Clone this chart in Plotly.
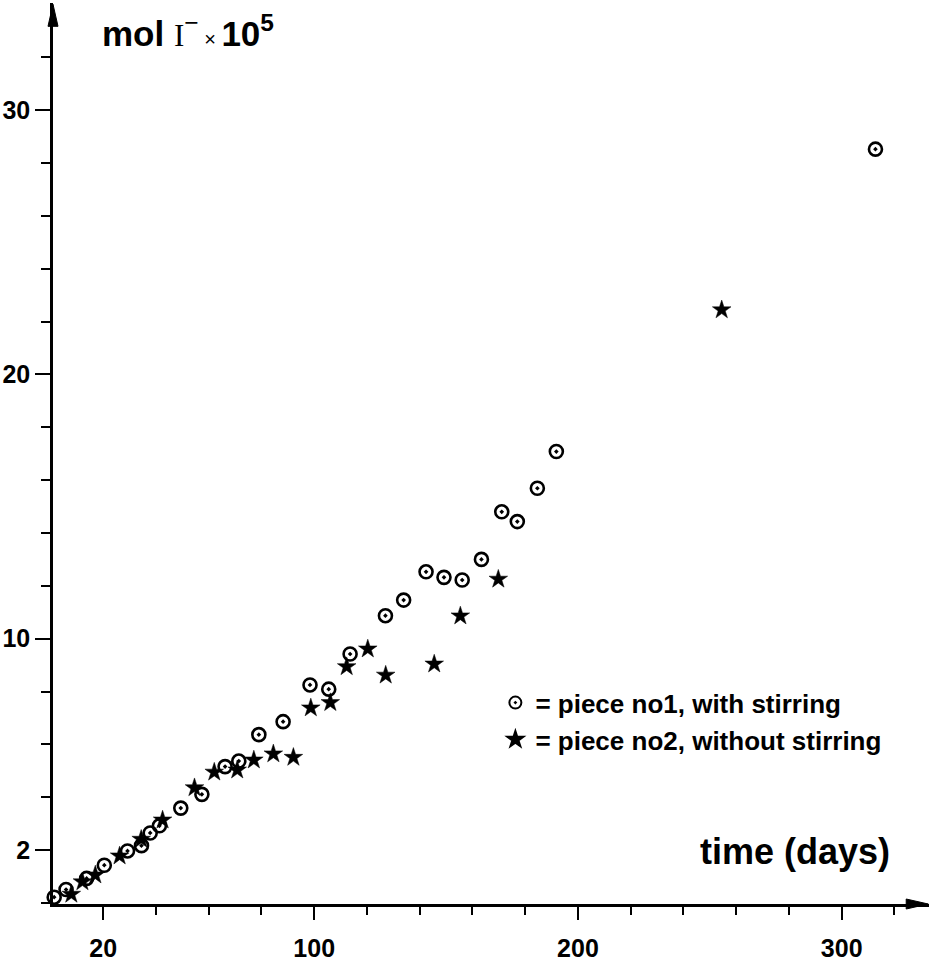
import plotly.graph_objects as go

# ---- data ----
days_stirring = [1.4, 5.9, 13.7, 20.4, 29.2, 34.5, 37.8, 41.3, 49.4, 57.4, 66.2, 71.4,
                 79.0, 88.2, 98.4, 105.5, 113.6, 127.0, 133.9, 142.4, 149.2, 156.1,
                 163.4, 171.1, 177.0, 184.6, 191.8, 312.8]
mol_stirring = [0.22, 0.51, 0.93, 1.43, 1.97, 2.17, 2.65, 2.92, 3.59, 4.11, 5.16, 5.37,
                6.37, 6.86, 8.25, 8.09, 9.42, 10.87, 11.46, 12.53, 12.32, 12.22,
                13.00, 14.80, 14.43, 15.69, 17.08, 28.52]

days_nostir = [7.9, 12.1, 17.0, 26.2, 34.4, 42.5, 54.6, 62.1, 70.8, 77.1, 84.5, 92.1,
               98.7, 106.1, 112.3, 120.3, 127.1, 145.5, 155.4, 169.8, 254.5]
mol_nostir = [0.33, 0.80, 1.06, 1.78, 2.41, 3.14, 4.36, 4.95, 5.03, 5.41, 5.64, 5.51,
              7.38, 7.58, 8.94, 9.61, 8.62, 9.04, 10.86, 12.25, 22.44]

x_tickvals = [20, 100, 200, 300]
x_ticktext = ["20", "100", "200", "300"]
x_minor_ticks = list(range(0, 321, 20))
y_tickvals = [2, 10, 20, 30]
y_ticktext = ["2", "10", "20", "30"]
y_minor_ticks = list(range(0, 33, 2))

name_stirring = "= piece no1, with stirring"
name_nostir = "= piece no2, without stirring"

FONT = "Liberation Sans, Arial, sans-serif"

X0, X1 = 0.95, 333.1
Y0, Y1 = -0.038, 34.05
PLOT_W, PLOT_H = 876, 901

fig = go.Figure()
fig.add_trace(go.Scatter(
    x=days_stirring, y=mol_stirring, mode="markers", name=name_stirring,
    marker=dict(symbol="circle-open-dot", size=13, color="black",
                line=dict(width=2.6, color="black")),
    cliponaxis=False))
fig.add_trace(go.Scatter(
    x=days_nostir, y=mol_nostir, mode="markers", name=name_nostir,
    marker=dict(symbol="star", size=14, color="black",
                line=dict(width=0.5, color="black")),
    cliponaxis=False))

fig.update_layout(
    width=929, height=966,
    margin=dict(l=53, r=0, t=3, b=62),
    paper_bgcolor="white", plot_bgcolor="white",
    font=dict(family=FONT, color="black"),
    showlegend=True,
    legend=dict(x=0.505, y=0.2495, xanchor="left", yanchor="top",
                font=dict(size=26, family=FONT, color="black", weight="bold"),
                bgcolor="rgba(0,0,0,0)", tracegroupgap=2, itemsizing="constant"),
    xaxis=dict(range=[X0, X1], showgrid=False, zeroline=False,
               showline=True, linecolor="black", linewidth=2.5,
               tickmode="array", tickvals=x_tickvals, ticktext=x_ticktext,
               ticks="outside", ticklen=13, tickwidth=2, tickcolor="black",
               ticklabelstandoff=7,
               tickfont=dict(size=25, family=FONT, color="black", weight="bold"),
               minor=dict(tickmode="array", tickvals=x_minor_ticks, ticks="outside",
                          ticklen=8, tickwidth=2, tickcolor="black")),
    yaxis=dict(range=[Y0, Y1], showgrid=False, zeroline=False,
               showline=True, linecolor="black", linewidth=2.5,
               tickmode="array", tickvals=y_tickvals, ticktext=y_ticktext,
               ticks="outside", ticklen=15, tickwidth=2, tickcolor="black",
               ticklabelstandoff=0,
               tickfont=dict(size=25, family=FONT, color="black", weight="bold"),
               minor=dict(tickmode="array", tickvals=y_minor_ticks, ticks="outside",
                          ticklen=9, tickwidth=2, tickcolor="black")),
)

# axis arrowheads (slender triangles at the axis ends, paper coordinates so not clipped)
head_len, head_half = 22, 5
ax_tip = (332.8 - X0) / (X1 - X0)
fig.add_shape(type="path", xref="paper", yref="paper", fillcolor="black",
              line=dict(color="black", width=1),
              path=(f"M {ax_tip} 0 L {ax_tip - head_len / PLOT_W} {head_half / PLOT_H} "
                    f"L {ax_tip - head_len / PLOT_W} {-head_half / PLOT_H} Z"))
ay_tip = (34.0 - Y0) / (Y1 - Y0)
fig.add_shape(type="path", xref="paper", yref="paper", fillcolor="black",
              line=dict(color="black", width=1),
              path=(f"M 0 {ay_tip} L {-head_half / PLOT_W} {ay_tip - head_len / PLOT_H} "
                    f"L {head_half / PLOT_W} {ay_tip - head_len / PLOT_H} Z"))

# axis titles
fig.add_annotation(
    x=18.8, y=33.0, xref="x", yref="y", xanchor="left", yanchor="middle",
    showarrow=False,
    text=("<b>mol </b><span style='font-family:Liberation Serif;font-size:31px'>I</span>"
          "<sup>−</sup><span style='font-size:20px'> × </span><b>10<sup>5</sup></b>"),
    font=dict(size=35, family=FONT, color="black"))
fig.add_annotation(
    x=319.2, y=1.93, xref="x", yref="y", xanchor="right", yanchor="middle",
    showarrow=False, text="<b>time (days)</b>",
    font=dict(size=36, family=FONT, color="black"))

fig.write_html("out.html")
